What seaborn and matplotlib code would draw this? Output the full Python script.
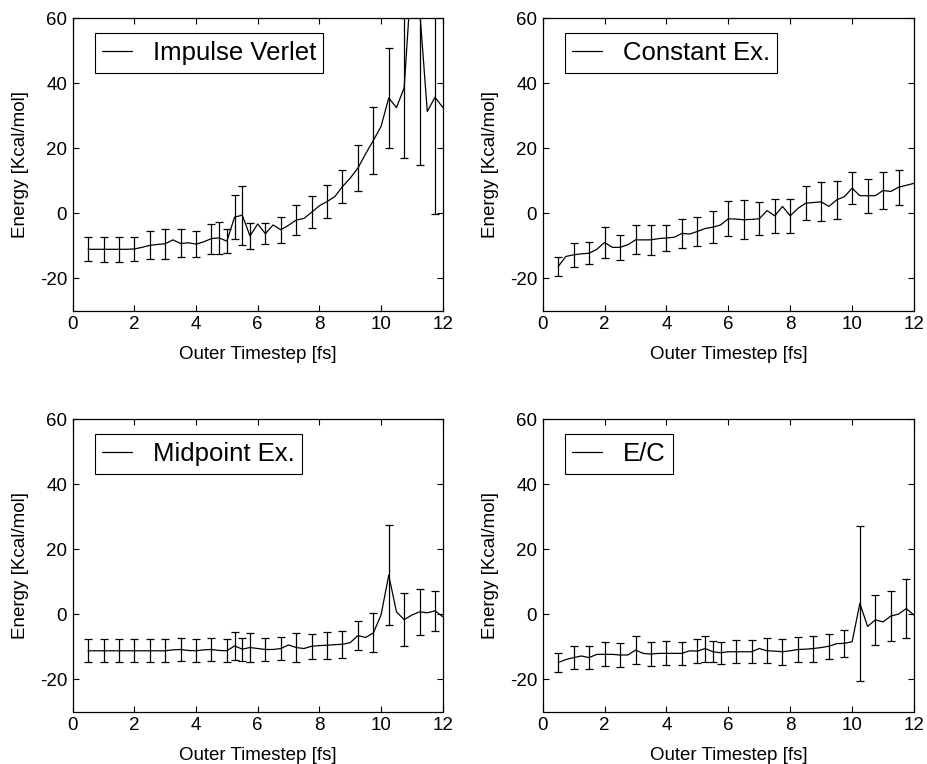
import numpy as np
import pandas as pd
import matplotlib
matplotlib.use("Agg")
import matplotlib.pyplot as plt
import seaborn as sns

# ---------------- data ----------------
x_step = [0.5, 0.75, 1.0, 1.25, 1.5, 1.75, 2.0, 2.25, 2.5, 2.75, 3.0, 3.25,
          3.5, 3.75, 4.0, 4.25, 4.5, 4.75, 5.0, 5.25, 5.5, 5.75, 6.0, 6.25,
          6.5, 6.75, 7.0, 7.25, 7.5, 7.75, 8.0, 8.25, 8.5, 8.75, 9.0, 9.25,
          9.5, 9.75, 10.0, 10.25, 10.5, 10.75, 11.0, 11.25, 11.5, 11.75, 12.0]

impulse_verlet = [-11.1, -11.1, -11.1, -11.1, -11.1, -11.1, -11.0, -10.5, -9.9, -9.6,
                  -9.4, -8.2, -9.3, -9.1, -9.5, -8.8, -7.8, -7.6, -8.6, -1.2,
                  -0.6, -7.0, -3.3, -6.3, -3.6, -5.1, -3.7, -2.1, -1.6, 0.3,
                  2.3, 3.6, 5.1, 8.2, 10.8, 13.9, 18.3, 22.4, 26.7, 35.5,
                  32.5, 38.6, 75.0, 63.0, 31.3, 35.7, 32.6]
constant_ex = [-16.4, -13.3, -12.8, -12.5, -12.3, -11.1, -9.0, -10.5, -10.5, -9.7,
               -8.2, -8.2, -8.2, -7.8, -7.6, -7.4, -6.2, -6.4, -5.6, -4.7,
               -4.3, -3.6, -1.7, -1.8, -2.0, -1.9, -1.7, 0.8, -0.8, 2.1,
               -0.8, 1.5, 3.1, 3.3, 3.5, 2.1, 4.1, 5.1, 7.7, 5.4,
               5.4, 5.4, 7.0, 6.7, 8.0, 8.6, 9.2]
midpoint_ex = [-11.3, -11.3, -11.3, -11.3, -11.3, -11.3, -11.3, -11.3, -11.3, -11.3,
               -11.3, -11.0, -10.9, -11.2, -11.3, -11.0, -10.9, -11.2, -11.3, -9.8,
               -10.8, -10.3, -10.6, -10.9, -10.9, -10.6, -9.5, -10.3, -10.6, -9.9,
               -9.7, -9.6, -9.4, -9.3, -8.8, -6.6, -7.2, -5.8, -0.3, 12.0,
               0.7, -1.7, -0.3, 0.7, 0.4, 1.0, -0.8]
ec = [-14.9, -14.0, -13.4, -12.9, -13.4, -12.4, -12.4, -12.4, -12.6, -12.6,
      -11.1, -12.1, -12.3, -12.1, -12.1, -12.1, -12.1, -11.3, -11.4, -10.6,
      -11.6, -11.9, -11.6, -11.6, -11.6, -11.6, -10.6, -11.3, -11.4, -11.6,
      -11.3, -10.9, -10.8, -10.6, -10.3, -9.9, -9.1, -9.0, -8.5, 3.3,
      -3.8, -1.8, -2.4, -0.6, 0.0, 1.7, -0.3]

# error bar positions and half-widths
iv_bar_x = [0.5, 1.0, 1.5, 2.0, 2.5, 3.0, 3.5, 4.0, 4.5, 4.75, 5.0, 5.25, 5.5,
            5.75, 6.25, 6.75, 7.25, 7.75, 8.25, 8.75, 9.25, 9.75, 10.25, 10.75,
            11.25, 11.75]
iv_bar_err = [3.7, 3.9, 3.9, 3.6, 4.3, 4.7, 4.3, 3.9, 4.6, 5.0, 3.7, 6.8, 9.1,
              4.1, 3.3, 4.0, 4.5, 4.9, 5.0, 5.2, 7.1, 10.2, 15.4, 21.5,
              48.0, 36.0]

ce_bar_x = [0.5, 1.0, 1.5, 2.0, 2.5, 3.0, 3.5, 4.0, 4.5, 5.0, 5.5, 6.0, 6.5,
            7.0, 7.5, 8.0, 8.5, 9.0, 9.5, 10.0, 10.5, 11.0, 11.5]
ce_bar_err = [2.8, 3.6, 3.4, 4.9, 3.8, 4.5, 4.6, 4.1, 4.4, 4.4, 5.0, 5.4, 6.0,
              5.1, 5.3, 5.3, 5.2, 6.0, 5.9, 5.0, 5.2, 5.8, 5.4]

me_bar_x = [0.5, 1.0, 1.5, 2.0, 2.5, 3.0, 3.5, 4.0, 4.5, 5.0, 5.25, 5.5, 5.75,
            6.25, 6.75, 7.25, 7.75, 8.25, 8.75, 9.25, 9.75, 10.25, 10.75,
            11.25, 11.75]
me_bar_err = [3.6, 3.6, 3.6, 3.6, 3.6, 3.6, 3.6, 3.6, 3.6, 3.6, 4.3, 3.5, 4.5,
              3.4, 3.5, 4.4, 3.9, 4.1, 4.1, 4.6, 6.0, 15.4, 8.1, 7.0, 6.1]

ec_bar_x = [0.5, 1.0, 1.5, 2.0, 2.5, 3.0, 3.5, 4.0, 4.5, 5.0, 5.25, 5.5, 5.75,
            6.25, 6.75, 7.25, 7.75, 8.25, 8.75, 9.25, 9.75, 10.25, 10.75,
            11.25, 11.75]
ec_bar_err = [2.9, 3.5, 3.5, 3.7, 3.8, 4.4, 3.7, 3.7, 3.6, 3.8, 4.0, 3.2, 3.4,
              3.5, 3.6, 3.9, 4.0, 3.8, 4.0, 3.9, 4.2, 23.9, 7.7, 7.7, 9.0]

labels = ["Impulse Verlet", "Constant Ex.", "Midpoint Ex.", "E/C"]
series = [impulse_verlet, constant_ex, midpoint_ex, ec]
bars = [(iv_bar_x, iv_bar_err), (ce_bar_x, ce_bar_err),
        (me_bar_x, me_bar_err), (ec_bar_x, ec_bar_err)]

x_ticks = [0, 2, 4, 6, 8, 10, 12]
y_ticks = [-20, 0, 20, 40, 60]

# ---------------- style ----------------
sns.set_theme(style="ticks")
plt.rcParams.update({
    "font.family": ["Liberation Sans", "DejaVu Sans"],
    "axes.unicode_minus": False,
    "text.color": "black",
    "axes.labelcolor": "black",
    "xtick.labelcolor": "black",
    "ytick.labelcolor": "black",
    "xtick.direction": "in",
    "ytick.direction": "in",
    "xtick.top": True,
    "ytick.right": True,
    "xtick.major.size": 4.5,
    "ytick.major.size": 4.5,
    "xtick.major.width": 0.8,
    "ytick.major.width": 0.8,
    "axes.edgecolor": "black",
    "axes.linewidth": 0.9,
    "xtick.color": "black",
    "ytick.color": "black",
})

W, H = 927, 764
fig = plt.figure(figsize=(W / 100, H / 100), dpi=100)

boxes = [
    (72.7, 18.3, 442.7, 310.7),
    (542.7, 18.3, 914.0, 310.7),
    (72.7, 419.3, 442.7, 711.5),
    (542.7, 419.3, 914.0, 711.5),
]

for (l, t, r, b), name, yvals, (bx, be) in zip(boxes, labels, series, bars):
    ax = fig.add_axes([l / W, 1 - b / H, (r - l) / W, (b - t) / H])
    df = pd.DataFrame({"x": x_step, "y": yvals})
    sns.lineplot(data=df, x="x", y="y", ax=ax, color="black", lw=0.9,
                 label=name, legend=False)
    bdf = pd.DataFrame({"x": bx, "err": be}).merge(df, on="x", how="left")
    ax.errorbar(bdf["x"], bdf["y"], yerr=bdf["err"], fmt="none",
                ecolor="black", elinewidth=0.9, capsize=3.2, capthick=0.9)
    ax.set_xlim(0, 12)
    ax.set_ylim(-30, 60)
    ax.set_xticks(x_ticks)
    ax.set_yticks(y_ticks)
    ax.tick_params(labelsize=13.5, pad=4)
    ax.set_xlabel("Outer Timestep [fs]", fontsize=13.5, labelpad=9, color="black")
    ax.set_ylabel("Energy [Kcal/mol]", fontsize=13.5, labelpad=7.5, color="black")
    handle = ax.get_lines()[0]
    axw, axh = (r - l), (b - t)
    leg = ax.legend(handles=[handle], labels=[name], loc="upper left",
                    bbox_to_anchor=(22 / axw, 1 - 15 / axh), borderaxespad=0,
                    fontsize=18.5, frameon=True, fancybox=False,
                    edgecolor="black", framealpha=1, handlelength=1.15,
                    handletextpad=0.8, borderpad=0.3)
    leg.get_frame().set_linewidth(0.8)
    for txt in leg.get_texts():
        txt.set_color("black")
    for s in ax.spines.values():
        s.set_visible(True)

fig.savefig("out.png", dpi=100)
